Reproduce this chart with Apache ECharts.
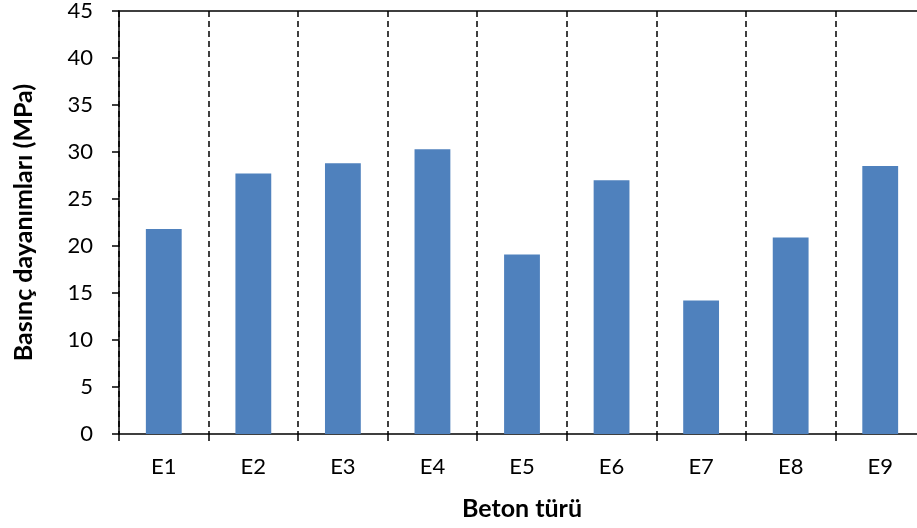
<!DOCTYPE html>
<html>
<head>
<meta charset="utf-8">
<script src="https://cdn.jsdelivr.net/npm/echarts@6/dist/echarts.min.js"></script>
<style>html,body{margin:0;padding:0;background:#fff;overflow:hidden}#c{width:917px;height:528px}</style>
</head>
<body>
<div id="c"></div>
<script>
const categories = ['E1','E2','E3','E4','E5','E6','E7','E8','E9'];
const values = [21.8, 27.7, 28.8, 30.3, 19.1, 27.0, 14.2, 20.9, 28.5];
const yMin = 0, yMax = 45, yStep = 5;
const xTitle = 'Beton türü';
const yTitle = 'Basınç dayanımları (MPa)';

const FONT = 'Lato, "Open Sans", sans-serif';
const chart = echarts.init(document.getElementById('c'), null, {renderer: 'canvas'});
chart.setOption({
  animation: false,
  backgroundColor: '#fff',
  grid: {left: 119, top: 11, width: 806, bottom: 94, containLabel: false, outerBoundsMode: 'none'},
  xAxis: [{
    type: 'category',
    data: categories,
    boundaryGap: true,
    axisLine: {show: true, lineStyle: {color: '#000', width: 1.5}},
    axisTick: {show: true, inside: false, length: 7, alignWithLabel: false, lineStyle: {color: '#000', width: 1.5}},
    axisLabel: {color: '#000', fontSize: 22, fontFamily: FONT, margin: 22},
    splitLine: {show: true, lineStyle: {color: '#000', width: 1.5, type: [6, 4]}},
    name: xTitle,
    nameLocation: 'middle',
    nameGap: 62,
    nameTextStyle: {color: '#000', fontSize: 25, fontWeight: 'bold', fontFamily: FONT}
  }, {
    type: 'category',
    data: categories,
    position: 'top',
    axisLine: {show: true, lineStyle: {color: '#000', width: 1.5}},
    axisTick: {show: false},
    axisLabel: {show: false},
    splitLine: {show: false}
  }],
  yAxis: {
    type: 'value',
    min: yMin, max: yMax, interval: yStep,
    axisLine: {show: true, lineStyle: {color: '#000', width: 1.5}},
    axisTick: {show: true, inside: false, length: 7, lineStyle: {color: '#000', width: 1.5}},
    axisLabel: {color: '#000', fontSize: 22, fontFamily: FONT, margin: 26},
    splitLine: {show: false},
    name: yTitle,
    nameLocation: 'middle',
    nameGap: 83,
    nameTextStyle: {color: '#000', fontSize: 25, fontWeight: 'bold', fontFamily: FONT}
  },
  series: [{
    type: 'bar',
    data: values,
    barWidth: '40%',
    itemStyle: {color: '#4F81BD'},
    z: 1
  }]
});
</script>
</body>
</html>
